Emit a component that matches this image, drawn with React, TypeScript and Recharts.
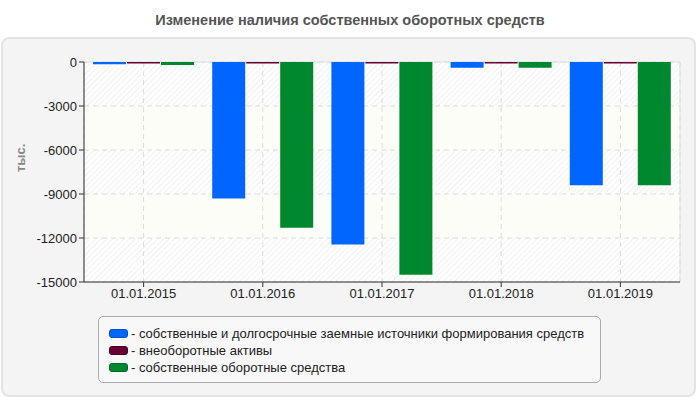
import React from "react";
import {
  BarChart,
  Bar,
  XAxis,
  YAxis,
  CartesianGrid,
  ReferenceArea,
  Label,
} from "recharts";

const dates = ["01.01.2015", "01.01.2016", "01.01.2017", "01.01.2018", "01.01.2019"];
const sources = [-150, -9300, -12450, -400, -8400];
const fixedAssets = [-100, -100, -100, -100, -100];
const workingCapital = [-200, -11300, -14500, -400, -8400];
const yTicks = [0, -3000, -6000, -9000, -12000, -15000];

const series = [
  { key: "sources", name: "собственные и долгосрочные заемные источники формирования средств", color: "#0066ff", border: "#0050cc" },
  { key: "fixedAssets", name: "внеоборотные активы", color: "#660033", border: "#4a0025" },
  { key: "workingCapital", name: "собственные оборотные средства", color: "#00882f", border: "#006a24" },
];

const data = dates.map((date, i) => ({
  date,
  sources: sources[i],
  fixedAssets: fixedAssets[i],
  workingCapital: workingCapital[i],
}));

const font = "'Liberation Sans', Arial, sans-serif";

const LegendBox = () => (
  <div
    style={{
      position: "absolute",
      left: 98,
      top: 316,
      width: 503,
      height: 67,
      boxSizing: "border-box",
      border: "1px solid #aaa",
      borderRadius: 5,
      background: "#f8f8f8",
      padding: "8px 0 0 10px",
      fontFamily: font,
      fontSize: 13,
      color: "#222",
    }}
  >
    {series.map((s) => (
      <div key={s.key} style={{ display: "flex", alignItems: "center", height: 17 }}>
        <span
          style={{
            display: "inline-block",
            width: 17,
            height: 7,
            background: s.color,
            border: `1px solid ${s.border}`,
            borderRadius: 3,
            marginRight: 3,
          }}
        />
        <span>- {s.name}</span>
      </div>
    ))}
  </div>
);

export default function App() {
  return (
    <div style={{ position: "absolute", left: 0, top: 0, width: 700, height: 400, background: "#fff" }}>
      {/* outer panel */}
      <div
        style={{
          position: "absolute",
          left: 1,
          top: 37,
          width: 695,
          height: 360,
          boxSizing: "border-box",
          border: "2px solid #e4e4e4",
          borderRadius: 8,
          background: "#f4f4f4",
        }}
      />
      <div
        style={{
          position: "absolute",
          left: 0,
          top: 12,
          width: 700,
          textAlign: "center",
          fontFamily: font,
          fontWeight: "bold",
          fontSize: 14.5,
          color: "#555",
        }}
      >
        Изменение наличия собственных оборотных средств
      </div>
      <div style={{ position: "absolute", left: 0, top: 0 }}>
        <BarChart
          width={700}
          height={400}
          data={data}
          margin={{ top: 62, right: 20, bottom: 88, left: 24 }}
          barSize={33}
          barGap={1}
        >
          <defs>
            <pattern id="hatch" width="4" height="4" patternUnits="userSpaceOnUse" patternTransform="rotate(45)">
              <rect width="4" height="4" fill="#ffffff" />
              <line x1="0" y1="0" x2="0" y2="4" stroke="#ececec" strokeWidth="1.5" />
            </pattern>
          </defs>
          <CartesianGrid
            stroke="#dcdcdc"
            strokeDasharray="5 4"
            horizontalFill={["url(#hatch)", "#fdfdf8"]}
            fillOpacity={1}
          />
          <ReferenceArea y1={0} y2={-15000} fill="none" stroke="#e0e0e0" strokeWidth={1} />
          <XAxis
            dataKey="date"
            axisLine={{ stroke: "#333" }}
            tickLine={{ stroke: "#333" }}
            tickSize={5}
            tick={{ fill: "#222", fontSize: 13, fontFamily: font }}
            height={30}
          />
          <YAxis
            domain={[-15000, 0]}
            ticks={yTicks}
            allowDataOverflow
            axisLine={{ stroke: "#333" }}
            tickLine={{ stroke: "#333" }}
            tickSize={5}
            tick={{ fill: "#222", fontSize: 13, fontFamily: font }}
            width={60}
          >
            <Label
              value="тыс."
              angle={-90}
              position="insideLeft"
              offset={-4}
              style={{ fill: "#888", fontSize: 13, fontWeight: "bold", fontFamily: font }}
            />
          </YAxis>
          {series.map((s) => (
            <Bar key={s.key} dataKey={s.key} name={s.name} fill={s.color} isAnimationActive={false} />
          ))}
        </BarChart>
      </div>
      <LegendBox />
    </div>
  );
}
